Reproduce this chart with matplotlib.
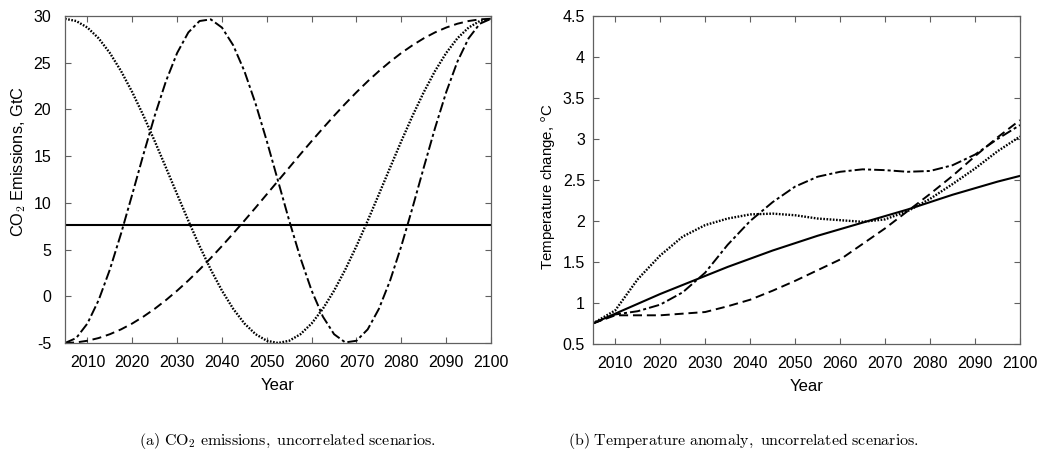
import matplotlib
matplotlib.use("Agg")
import matplotlib.pyplot as plt

# ---------------- data ----------------
years_a = [2005 + 2.5 * k for k in range(39)]
years_a_const = [2005, 2100]

emis_constant = [7.6, 7.6]
emis_dotted = [29.70, 29.46, 28.76, 27.61, 26.04, 24.10, 21.84, 19.32, 16.61, 13.78,
               10.92, 8.09, 5.38, 2.86, 0.60, -1.34, -2.91, -4.06, -4.76, -5.00,
               -4.76, -4.06, -2.91, -1.34, 0.60, 2.86, 5.38, 8.09, 10.92, 13.78,
               16.61, 19.32, 21.84, 24.10, 26.04, 27.61, 28.76, 29.46, 29.70]
emis_dashdot = [-5.00, -4.47, -2.91, -0.41, 2.86, 6.72, 10.92, 15.21, 19.32, 23.01,
                26.04, 28.24, 29.46, 29.64, 28.76, 26.87, 24.10, 20.61, 16.61, 12.35,
                8.09, 4.09, 0.60, -2.17, -4.06, -4.94, -4.76, -3.54, -1.34, 1.69,
                5.38, 9.49, 13.78, 17.98, 21.84, 25.11, 27.61, 29.17, 29.70]
emis_dashed = [-5.00, -4.94, -4.76, -4.47, -4.06, -3.54, -2.91, -2.17, -1.34, -0.41,
               0.60, 1.69, 2.86, 4.09, 5.38, 6.72, 8.09, 9.49, 10.92, 12.35,
               13.78, 15.21, 16.61, 17.98, 19.32, 20.61, 21.84, 23.01, 24.10, 25.11,
               26.04, 26.87, 27.61, 28.24, 28.76, 29.17, 29.46, 29.64, 29.70]

years_b = [2005, 2010, 2015, 2020, 2025, 2030, 2035, 2040, 2045, 2050,
           2055, 2060, 2065, 2070, 2075, 2080, 2085, 2090, 2095, 2100]
temp_constant = [0.75, 0.87, 0.99, 1.11, 1.22, 1.33, 1.44, 1.54, 1.64, 1.73,
                 1.82, 1.90, 1.98, 2.06, 2.14, 2.23, 2.32, 2.40, 2.48, 2.55]
temp_dotted = [0.75, 0.91, 1.29, 1.58, 1.81, 1.95, 2.03, 2.08, 2.09, 2.07,
               2.03, 2.01, 1.99, 2.02, 2.12, 2.27, 2.45, 2.64, 2.85, 3.03]
temp_dashdot = [0.75, 0.86, 0.90, 0.98, 1.13, 1.37, 1.71, 2.00, 2.23, 2.42,
                2.54, 2.60, 2.63, 2.62, 2.60, 2.61, 2.68, 2.81, 3.00, 3.17]
temp_dashed = [0.75, 0.85, 0.85, 0.85, 0.87, 0.89, 0.96, 1.04, 1.15, 1.27,
               1.40, 1.53, 1.72, 1.91, 2.12, 2.33, 2.55, 2.79, 3.02, 3.23]

xticks = [2010, 2020, 2030, 2040, 2050, 2060, 2070, 2080, 2090, 2100]
yticks_a = [-5, 0, 5, 10, 15, 20, 25, 30]
yticks_b = [0.5, 1, 1.5, 2, 2.5, 3, 3.5, 4, 4.5]
ytick_labels_b = ["0.5", "1", "1.5", "2", "2.5", "3", "3.5", "4", "4.5"]

caption_a = r"$\mathrm{(a)\ CO_2\ emissions,\ uncorrelated\ scenarios.}$"
caption_b = r"$\mathrm{(b)\ Temperature\ anomaly,\ uncorrelated\ scenarios.}$"

# ---------------- style ----------------
plt.rcParams['font.family'] = ['Liberation Sans', 'DejaVu Sans']
plt.rcParams['mathtext.fontset'] = 'cm'
plt.rcParams['lines.scale_dashes'] = False
plt.rcParams['axes.unicode_minus'] = False

STY_SOLID = dict(color='black', lw=1.5, linestyle='-')
STY_DOT = dict(color='black', lw=1.7, linestyle=(0, (1.2, 1.1)))
STY_DASH = dict(color='black', lw=1.4, linestyle=(0, (6.5, 3.5)))
STY_DASHDOT = dict(color='black', lw=1.4, linestyle=(0, (7.5, 2.2, 2.2, 2.2)))

fig = plt.figure(figsize=(10.37, 4.58), dpi=100)
ax1 = fig.add_axes([0.0627, 0.2511, 0.4108, 0.7140])
ax2 = fig.add_axes([0.5716, 0.2489, 0.4120, 0.7162])

spine_col = '#606060'

def style_axes(ax, ypad):
    ax.set_xlim(2005, 2100)
    ax.set_xticks(xticks)
    ax.tick_params(direction='in', top=True, right=True, length=4, width=0.8,
                   color=spine_col, labelsize=11.5)
    ax.tick_params(axis='x', pad=8.5)
    ax.tick_params(axis='y', pad=ypad)
    for s in ax.spines.values():
        s.set_color(spine_col)
        s.set_linewidth(0.9)
    ax.set_xlabel('Year', fontsize=12, labelpad=6)

ax1.plot(years_a_const, emis_constant, **STY_SOLID)
ax1.plot(years_a, emis_dotted, **STY_DOT)
ax1.plot(years_a, emis_dashdot, **STY_DASHDOT)
ax1.plot(years_a, emis_dashed, **STY_DASH)
style_axes(ax1, 10)
ax1.set_ylim(-5, 30)
ax1.set_yticks(yticks_a)
ax1.set_ylabel(r'CO$_{\mathsf{2}}$ Emissions, GtC', fontsize=11.8, va='center')
ax1.yaxis.set_label_coords(-0.109, 0.555)

ax2.plot(years_b, temp_constant, **STY_SOLID)
ax2.plot(years_b, temp_dotted, **STY_DOT)
ax2.plot(years_b, temp_dashdot, **STY_DASHDOT)
ax2.plot(years_b, temp_dashed, **STY_DASH)
style_axes(ax2, 5.5)
ax2.set_ylim(0.5, 4.5)
ax2.set_yticks(yticks_b)
ax2.set_yticklabels(ytick_labels_b)
ax2.set_ylabel(r'Temperature change, $^{\mathsf{o}}$C', fontsize=10.8, va='center')
ax2.yaxis.set_label_coords(-0.105, 0.479)

fig.text(287 / 1037, 1 - 441 / 458, caption_a, ha='center', va='center', fontsize=11.5)
fig.text(744 / 1037, 1 - 441 / 458, caption_b, ha='center', va='center', fontsize=11.5)

fig.savefig('out.png', dpi=100)
